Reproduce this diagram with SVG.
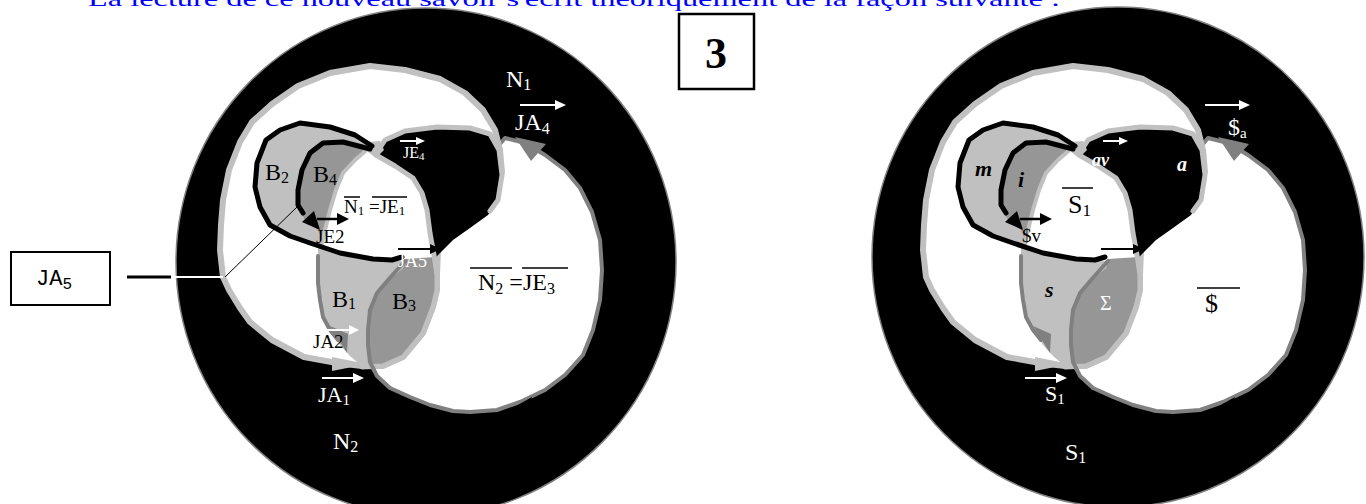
<svg xmlns="http://www.w3.org/2000/svg" width="1366" height="504" viewBox="0 0 1366 504">
<style>
.lg{fill:#c0c0c0}
.mg{fill:#969696}
.ln{fill:none;stroke-linejoin:round;stroke-linecap:round}
.t{font-family:"Liberation Serif","Times New Roman",serif}
.ring{fill:#000;stroke:#808080;stroke-width:1.5}
</style>
<defs>
<g id="venn">
<path d="M505,138 L525,143 545,155 565,170 580,188 592,212 600,240 602,270 600,300 593,330 583,355 565,375 545,390 520,402 497,410 470,412 453,411 430,405 410,397 390,388 377,376 370,362 368,345 368,330 370,310 377,293 388,280 403,268 420,258 440,240 470,190 495,150 Z" fill="#fff" stroke="#808080" stroke-width="4" stroke-linejoin="round"/>
<path d="M370,66 L405,70 440,79 465,93 483,110 495,130 500,150 502,172 490,192 468,212 450,232 438,250 437,275 437,290 433,307 423,333 403,357 383,366 362,366 337,363 304,357 272,340 250,322 240,308 229,290 223,277 220,250 221,225 223,200 229,170 240,142 252,122 272,104 298,86 330,73 Z" fill="#fff" stroke="#c0c0c0" stroke-width="6" stroke-linejoin="round"/>
<path d="M376,154 L385,140 405,131 437,127 470,128 490,134 499,150 502,175 498,200 488,215 470,228 453,240 440,253 436,257 434,245 430,233 427,210 422,193 413,178 395,166 Z" fill="#000"/>
<polygon class="lg" points="366,142 380,141 384,150 376,158 368,152"/>
<polyline class="ln" points="376,154 385,140 405,131 437,127 470,128 490,134 499,150 502,175 498,200 490,211" stroke="#c0c0c0" stroke-width="5"/>
<path class="lg" d="M370,146 L355,135 330,127 300,123 280,130 266,140 257,163 255,187 260,207 270,225 290,236 310,243 321,247 322,240 325,230 330,210 336,190 343,173 355,160 368,148 Z"/>
<path class="mg" d="M368,148 L343,142 323,143 310,153 302,170 298,190 298,207 305,220 318,230 322,240 325,230 330,210 336,190 343,173 355,160 Z"/>
<path class="lg" d="M318,246 L340,253 373,259 405,261 403,268 388,280 377,293 370,310 368,330 368,345 370,362 362,366 350,356 340,345 330,330 323,317 320,300 318,283 Z"/>
<path class="mg" d="M405,259 L420,258 436,257 437,275 437,290 433,307 423,333 403,357 383,366 372,366 370,362 368,345 368,330 370,310 377,293 388,280 403,268 Z"/>
<path class="ln" d="M376,155 L395,166 413,178 422,193 427,210 430,233 434,255 437,275 437,290 433,307 423,333 403,357 383,366 362,367" stroke="#c0c0c0" stroke-width="5"/>
<path class="ln" d="M370,147 L355,160 343,173 336,190 330,210 325,230 321,247" stroke="#c0c0c0" stroke-width="4"/>
<path class="ln" d="M318,256 L318,283 320,300 323,317 330,330 338,340" stroke="#808080" stroke-width="4"/>
<polygon points="330,326 348,334 347,353" fill="#808080"/>
<path class="ln" d="M405,261 L388,280 377,293 370,310 368,330 368,345 370,362 374,370" stroke="#808080" stroke-width="4"/>
<polygon points="332,357 367,364 332,371" fill="#c0c0c0"/>
<polygon points="515,137 546,144 531,161" fill="#808080"/>
<polygon points="516,406 532,397 529,408" fill="#000"/>
<path class="ln" d="M372,146 L355,135 330,127 300,123 280,130 266,140 257,163 255,187 260,207 270,225 290,236 310,243 340,253 373,259 392,260 402,257" stroke="#000" stroke-width="5"/>
<path class="ln" d="M370,149 L343,142 323,143 310,153 302,170 298,190 298,205 303,213" stroke="#000" stroke-width="5"/>
<polygon points="320,230 314,211 302,222" fill="#000"/>
<line x1="400" y1="141" x2="417" y2="141" stroke="#fff" stroke-width="2"/>
<polygon points="425,141 416,137 416,145" fill="#fff"/>
<line x1="317" y1="219" x2="338" y2="219" stroke="#000" stroke-width="2.5"/>
<polygon points="349,219 337,213 337,225" fill="#000"/>
<line x1="398" y1="249" x2="430" y2="249" stroke="#000" stroke-width="2"/>
<polygon points="441,249 430,244 430,254" fill="#000"/>
<line x1="322" y1="378" x2="354" y2="378" stroke="#fff" stroke-width="2"/>
<polygon points="364,378 353,373 353,383" fill="#fff"/>
</g>
</defs>

<text class="t" x="88" y="6" font-size="22" fill="#0000ff" textLength="972" lengthAdjust="spacingAndGlyphs">La lecture de ce nouveau savoir s'écrit théoriquement de la façon suivante :</text>

<g id="box3">
<rect x="679" y="14" width="75" height="75" fill="#fff" stroke="#000" stroke-width="2.5"/>
<text class="t" x="716" y="68" font-size="44" font-weight="bold" text-anchor="middle">3</text>
</g>

<g id="diagram-left">
<ellipse class="ring" cx="426" cy="262" rx="250" ry="254"/>
<use href="#venn"/>
<g id="l-labels" class="t">
<text x="506" y="87" font-size="24" fill="#fff">N<tspan font-size="16" dy="3">1</tspan></text>
<line x1="520" y1="105" x2="556" y2="105" stroke="#fff" stroke-width="2"/>
<polygon points="566,105 555,100 555,110" fill="#fff"/>
<text x="515" y="130" font-size="24" fill="#fff">JA<tspan font-size="16" dy="4">4</tspan></text>
<text x="403" y="158" font-size="16" fill="#fff">JE<tspan font-size="11" dy="2">4</tspan></text>
<text x="344" y="213" font-size="19" fill="#000">N<tspan font-size="13" dy="2">1</tspan><tspan dy="-2"> =JE</tspan><tspan font-size="13" dy="2">1</tspan></text>
<line x1="344" y1="197" x2="360" y2="197" stroke="#000" stroke-width="1.5"/>
<line x1="372" y1="197" x2="407" y2="197" stroke="#000" stroke-width="1.5"/>
<text x="316" y="243" font-size="19" fill="#000">JE2</text>
<text x="265" y="180" font-size="24" fill="#000">B<tspan font-size="16" dy="3">2</tspan></text>
<text x="313" y="182" font-size="24" fill="#000">B<tspan font-size="16" dy="3">4</tspan></text>
<text x="398" y="267" font-size="18" fill="#fff">JA5</text>
<text x="478" y="290" font-size="24" fill="#000">N<tspan font-size="16" dy="4">2</tspan><tspan dy="-4"> =JE</tspan><tspan font-size="16" dy="4">3</tspan></text>
<line x1="470" y1="268" x2="512" y2="268" stroke="#000" stroke-width="1.5"/>
<line x1="522" y1="268" x2="568" y2="268" stroke="#000" stroke-width="1.5"/>
<text x="332" y="307" font-size="24" fill="#000">B<tspan font-size="16" dy="2">1</tspan></text>
<text x="392" y="309" font-size="24" fill="#000">B<tspan font-size="16" dy="2">3</tspan></text>
<text x="313" y="348" font-size="19" fill="#000">JA2</text>
<line x1="327" y1="330" x2="350" y2="330" stroke="#fff" stroke-width="2"/>
<polygon points="359,330 349,325 349,335" fill="#fff"/>
<text x="318" y="402" font-size="22" fill="#fff">JA<tspan font-size="15" dy="3">1</tspan></text>
<text x="333" y="449" font-size="24" fill="#fff">N<tspan font-size="16" dy="3">2</tspan></text>
</g>
</g>

<g id="ja5-node">
<rect x="11" y="252" width="99" height="53" fill="#fff" stroke="#000" stroke-width="2"/>
<text x="36" y="285" font-family="Liberation Mono, monospace" font-size="22" fill="#000">JA<tspan font-size="16" dy="4">5</tspan></text>
</g>

<g id="connectors">
<line x1="127" y1="277" x2="171" y2="277" stroke="#000" stroke-width="3"/>
<line x1="173" y1="277" x2="223" y2="277" stroke="#fff" stroke-width="2"/>
<line x1="225" y1="277" x2="297" y2="207" stroke="#000" stroke-width="1"/>
</g>

<g id="diagram-right">
<ellipse class="ring" cx="1118" cy="257" rx="246" ry="250"/>
<use href="#venn" transform="translate(703,0)"/>
<g id="r-labels" class="t">
<line x1="1205" y1="105" x2="1240" y2="105" stroke="#fff" stroke-width="2"/>
<polygon points="1250,105 1239,100 1239,110" fill="#fff"/>
<text x="1228" y="135" font-size="24" fill="#fff">$<tspan font-size="15" dy="3">a</tspan></text>
<text x="975" y="176" font-size="22" font-style="italic" font-weight="bold" fill="#000">m</text>
<text x="1018" y="187" font-size="22" font-style="italic" font-weight="bold" fill="#000">i</text>
<text x="1092" y="166" font-size="18" font-style="italic" font-weight="bold" fill="#fff">av</text>
<text x="1177" y="171" font-size="20" font-style="italic" font-weight="bold" fill="#fff">a</text>
<text x="1068" y="213" font-size="26" fill="#000">S<tspan font-size="17" dy="3">1</tspan></text>
<line x1="1062" y1="188" x2="1093" y2="188" stroke="#000" stroke-width="1.5"/>
<text x="1022" y="242" font-size="19" fill="#000">$v</text>
<text x="1045" y="297" font-size="22" font-style="italic" font-weight="bold" fill="#000">s</text>
<text x="1100" y="310" font-size="20" fill="#fff">Σ</text>
<text x="1205" y="312" font-size="26" fill="#000">$</text>
<line x1="1197" y1="288" x2="1240" y2="288" stroke="#000" stroke-width="1.5"/>
<text x="1045" y="401" font-size="22" fill="#fff">S<tspan font-size="15" dy="3">1</tspan></text>
<text x="1065" y="460" font-size="24" fill="#fff">S<tspan font-size="16" dy="3">1</tspan></text>
</g>
</g>
</svg>
